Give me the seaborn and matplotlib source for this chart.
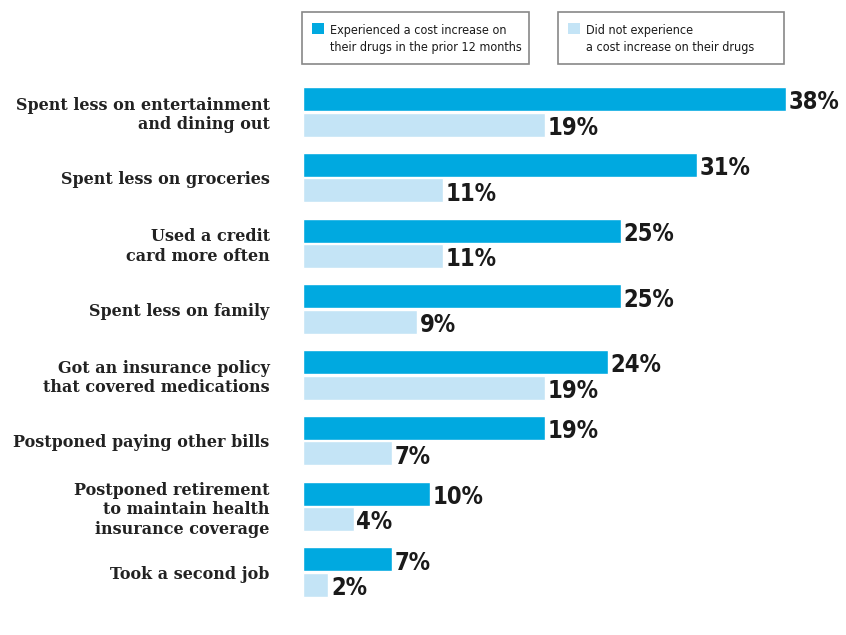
import matplotlib
import seaborn as sns
import pandas as pd

matplotlib.use("Agg")
import matplotlib.pyplot as plt
from matplotlib.patches import Rectangle

# Data
categories = [
    "Spent less on entertainment\nand dining out",
    "Spent less on groceries",
    "Used a credit\ncard more often",
    "Spent less on family",
    "Got an insurance policy\nthat covered medications",
    "Postponed paying other bills",
    "Postponed retirement\nto maintain health\ninsurance coverage",
    "Took a second job",
]
increase = [38, 31, 25, 25, 24, 19, 10, 7]
no_increase = [19, 11, 11, 9, 19, 7, 4, 2]

series_names = [
    "Experienced a cost increase on\ntheir drugs in the prior 12 months",
    "Did not experience\na cost increase on their drugs",
]
colors = ["#00a9e0", "#c4e4f6"]

df = pd.DataFrame({
    "Action": categories * 2,
    "Share": increase + no_increase,
    "Group": [series_names[0]] * len(categories) + [series_names[1]] * len(categories),
})

sns.set_theme(style="white")
num_font = ["DejaVu Sans"]
label_font = ["DejaVu Serif"]

W, H = 846, 635
fig = plt.figure(figsize=(W / 100, H / 100), dpi=100)
fig.patch.set_facecolor("white")


def fx(px):
    return px / W


def fy(py):
    return 1 - py / H


# axes: bars start at x=303 px, rows centred from y=112 to y=572 px
ax = fig.add_axes([fx(303), fy(605), fx(846) - fx(303), fy(79) - fy(605)])

sns.barplot(
    data=df, y="Action", x="Share", hue="Group", orient="h",
    palette=colors, width=0.78, gap=0.06, ax=ax, legend=False,
    saturation=1,
)
ax.set_xlim(0, 42.7)
ax.set_ylim(7.5, -0.5)
ax.set_xlabel("")
ax.set_ylabel("")
ax.set_xticks([])
for s in ax.spines.values():
    s.set_visible(False)

ax.tick_params(axis="y", length=0, pad=24)
ax.set_yticks(range(len(categories)))
ax.set_yticklabels(categories, fontsize=11.5, fontweight="bold",
                   family=label_font, color="#222222", ha="right",
                   linespacing=1.2)

# value labels
for container in ax.containers:
    for bar in container:
        w = bar.get_width()
        yc = bar.get_y() + bar.get_height() / 2
        ax.text(w + 0.2, yc + 0.05, f"{w:.0f}%", va="center", ha="left",
                fontsize=17, fontweight="bold", family=num_font,
                fontstretch="condensed", color="#1a1a1a")

# legend boxes
boxes = [(302, 529), (558, 784)]
for (x0, x1), name, c in zip(boxes, series_names, colors):
    fig.add_artist(Rectangle((fx(x0), fy(64)), fx(x1) - fx(x0), fy(12) - fy(64),
                             transform=fig.transFigure, facecolor="white",
                             edgecolor="#888888", linewidth=1.2))
    fig.add_artist(Rectangle((fx(x0 + 10), fy(34)), fx(12), fy(23) - fy(34),
                             transform=fig.transFigure, facecolor=c,
                             edgecolor="none"))
    fig.text(fx(x0 + 28), fy(39), name, ha="left", va="center",
             fontsize=9, family=num_font, fontstretch="condensed",
             color="#1a1a1a", linespacing=1.45)

plt.savefig("out.png", dpi=100, facecolor="white")
